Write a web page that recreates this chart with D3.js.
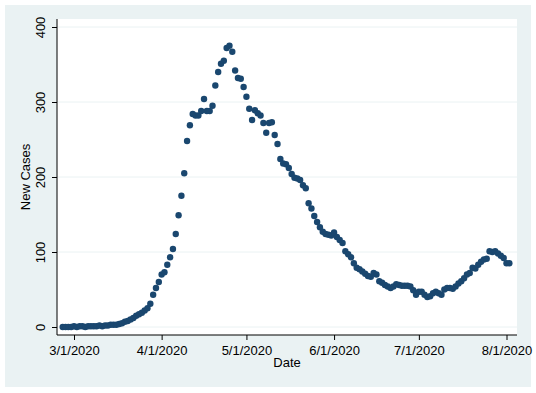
<!DOCTYPE html>
<html lang="en">
<head>
    <meta charset="UTF-8">
    <title>New Cases by Date</title>
    <script src="https://d3js.org/d3.v7.min.js"></script>
    <style>
        body { margin: 0; background: #fff; }
        text { font-family: Arial, "Liberation Sans", sans-serif; fill: #000; }
    </style>
</head>
<body>
    <div id="chart"></div>

    <script>
        // Daily series, first day 2/26/2020
        var startDate = "2020-02-26";
        var newCases = [
            0, 0, 0, 0, 1, 0, 1, 1, 0, 1, 1, 1, 1, 2, 1, 2, 2, 3, 3,
            3, 4, 5, 7, 8, 10, 12, 15, 17, 19, 22, 25, 31,
            43, 52, 60, 70, 73, 83, 93, 104,
            124, 149, 175, 205, 248, 269, 284, 282, 282, 288, 304, 288, 288, 295,
            322, 340, 351, 355, 372, 375, 367, 342, 332, 331, 320, 307,
            291, 276, 289, 285, 282, 272, 259, 272, 273, 256, 244, 224, 218, 217,
            212, 204, 199, 198, 196, 189, 185, 165, 158, 148, 140, 133, 127, 124, 123, 122,
            126, 120, 116, 112, 101, 97, 93, 85, 79, 77, 74, 71, 68, 67, 72, 70,
            61, 59, 56, 54, 52, 54, 57, 56, 55, 55, 55, 54, 49,
            43, 47, 47, 43, 40, 41, 45, 47, 45, 43, 50, 52, 52, 51, 54, 58, 61,
            65, 70, 72, 79, 78, 83, 87, 90, 91, 101, 100, 101, 98, 95, 92, 85, 85
        ];
        var xTicks = ["2020-03-01", "2020-04-01", "2020-05-01", "2020-06-01", "2020-07-01", "2020-08-01"];
        var yTicks = [0, 100, 200, 300, 400];

        var width = 536, height = 393;
        var plot = { left: 57, right: 517, top: 19, bottom: 335 };

        var parse = d3.utcParse("%Y-%m-%d");
        var fmt = function(d) { return (d.getUTCMonth() + 1) + "/" + d.getUTCDate() + "/" + d.getUTCFullYear(); };

        var data = newCases.map(function(v, i) {
            return { date: d3.utcDay.offset(parse(startDate), i), value: v };
        });

        var svg = d3.select("#chart")
                    .append("svg")
                    .attr("width", width)
                    .attr("height", height);

        // graph region and plot region
        svg.append("rect").attr("x", 5).attr("y", 5).attr("width", 526).attr("height", 382)
           .attr("fill", "#eaf2f3");
        svg.append("rect").attr("x", plot.left).attr("y", plot.top)
           .attr("width", plot.right - plot.left).attr("height", plot.bottom - plot.top)
           .attr("fill", "#fff");

        var x = d3.scaleUtc()
                  .domain([parse(xTicks[0]), parse(xTicks[xTicks.length - 1])])
                  .range([74, 506.5]);
        var y = d3.scaleLinear().domain([0, 400]).range([327, 27]);

        // gridlines
        svg.append("g").selectAll("line")
           .data(yTicks).enter().append("line")
           .attr("x1", plot.left).attr("x2", plot.right)
           .attr("y1", function(d) { return y(d); })
           .attr("y2", function(d) { return y(d); })
           .attr("stroke", "#eaf2f3").attr("stroke-width", 1);

        // y axis
        var yAxis = svg.append("g")
                       .attr("transform", "translate(" + plot.left + ",0)")
                       .call(d3.axisLeft(y).tickValues(yTicks).tickSize(5).tickPadding(0).tickFormat(d3.format("d")));
        yAxis.select(".domain").remove();
        yAxis.selectAll(".tick line").attr("stroke", "#000");
        yAxis.selectAll(".tick text")
             .attr("x", null).attr("dy", null)
             .attr("transform", "translate(-12,0) rotate(-90)")
             .attr("text-anchor", "middle")
             .style("font-size", "13px");
        svg.append("line")
           .attr("x1", plot.left).attr("x2", plot.left)
           .attr("y1", plot.top).attr("y2", plot.bottom)
           .attr("stroke", "#000");

        // x axis
        var xAxis = svg.append("g")
                       .attr("transform", "translate(0," + plot.bottom + ")")
                       .call(d3.axisBottom(x).tickValues(xTicks.map(parse)).tickSize(5).tickPadding(6).tickFormat(fmt));
        xAxis.select(".domain").remove();
        xAxis.selectAll(".tick line").attr("stroke", "#000");
        xAxis.selectAll(".tick text").style("font-size", "13px");
        svg.append("line")
           .attr("x1", plot.left).attr("x2", plot.right)
           .attr("y1", plot.bottom).attr("y2", plot.bottom)
           .attr("stroke", "#000");

        // axis titles
        svg.append("text")
           .attr("x", (plot.left + plot.right) / 2).attr("y", 367)
           .attr("text-anchor", "middle")
           .style("font-size", "13px")
           .text("Date");
        svg.append("text")
           .attr("transform", "translate(30," + (plot.top + plot.bottom) / 2 + ") rotate(-90)")
           .attr("text-anchor", "middle")
           .style("font-size", "13px")
           .text("New Cases");

        // markers
        svg.append("g").selectAll("circle")
           .data(data).enter().append("circle")
           .attr("cx", function(d) { return x(d.date); })
           .attr("cy", function(d) { return y(d.value); })
           .attr("r", 3.2)
           .attr("fill", "#1a476f");
    </script>
</body>
</html>
